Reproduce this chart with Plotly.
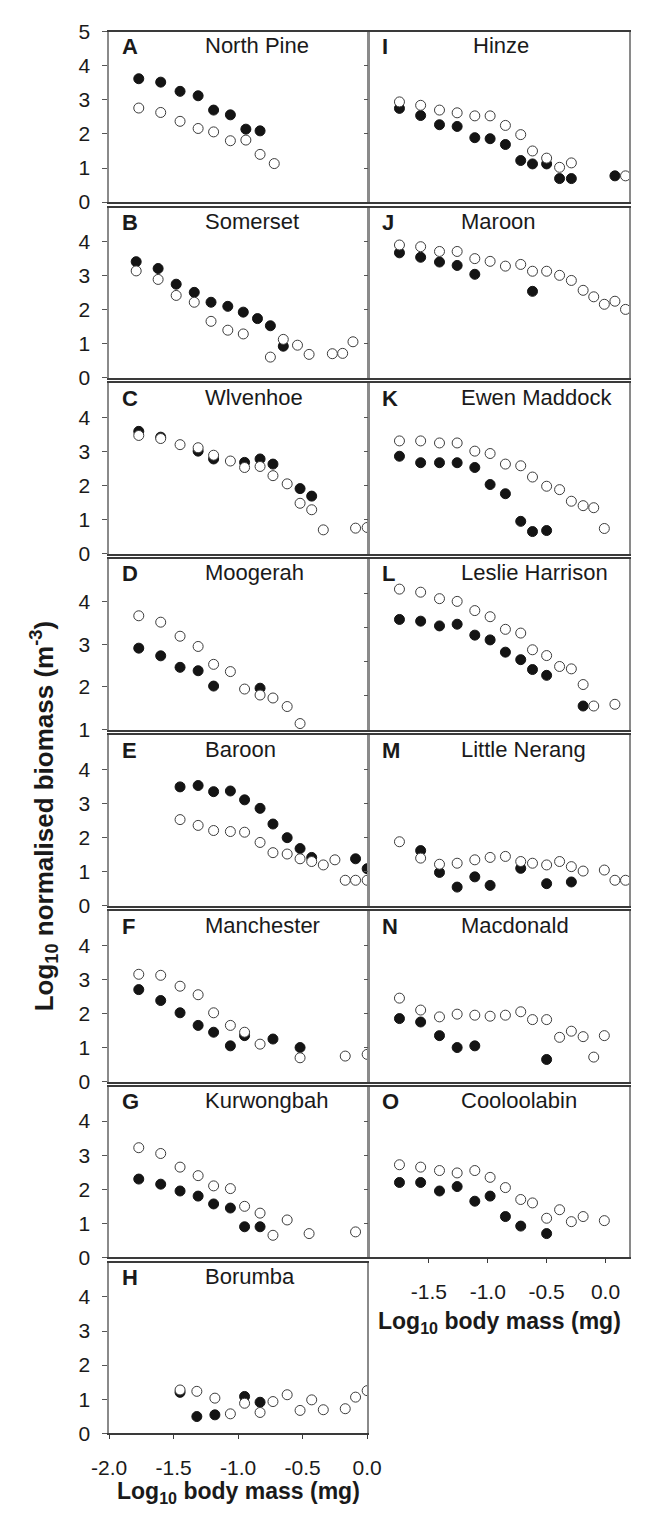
import plotly.graph_objects as go

W, H = 645, 1526
FONT = "Liberation Sans, Arial, Helvetica, sans-serif"

# ---------------- data: log10 body mass (mg) vs log10 normalised biomass ----------------
# Filled circles = one sampling survey, open circles = the other.

# A North Pine
north_pine_xf = [-1.77, -1.60, -1.45, -1.31, -1.19, -1.06, -0.94, -0.83]
north_pine_yf = [3.62, 3.52, 3.25, 3.12, 2.70, 2.56, 2.14, 2.09]
north_pine_xo = [-1.77, -1.60, -1.45, -1.31, -1.19, -1.06, -0.94, -0.83, -0.72]
north_pine_yo = [2.76, 2.63, 2.37, 2.16, 2.06, 1.80, 1.82, 1.40, 1.13]

# B Somerset
somerset_xf = [-1.79, -1.62, -1.48, -1.34, -1.21, -1.08, -0.96, -0.85, -0.75, -0.65]
somerset_yf = [3.41, 3.21, 2.75, 2.51, 2.22, 2.10, 1.93, 1.74, 1.53, 0.93]
somerset_xo = [-1.79, -1.62, -1.48, -1.34, -1.21, -1.08, -0.96, -0.75, -0.65, -0.54, -0.45, -0.27, -0.19, -0.11]
somerset_yo = [3.14, 2.89, 2.42, 2.22, 1.66, 1.40, 1.29, 0.61, 1.13, 0.96, 0.69, 0.71, 0.72, 1.06]

# C Wivenhoe
wivenhoe_xf = [-1.77, -1.60, -1.31, -1.19, -0.95, -0.83, -0.73, -0.52, -0.43]
wivenhoe_yf = [3.59, 3.42, 3.01, 2.78, 2.68, 2.78, 2.63, 1.91, 1.69]
wivenhoe_xo = [-1.77, -1.60, -1.45, -1.31, -1.19, -1.06, -0.95, -0.83, -0.73, -0.62, -0.52, -0.43, -0.34, -0.09, 0.0]
wivenhoe_yo = [3.47, 3.38, 3.20, 3.11, 2.89, 2.72, 2.53, 2.56, 2.29, 2.05, 1.48, 1.29, 0.70, 0.75, 0.77]

# D Moogerah
moogerah_xf = [-1.77, -1.60, -1.45, -1.31, -1.19, -0.83]
moogerah_yf = [2.91, 2.73, 2.46, 2.38, 2.02, 1.97]
moogerah_xo = [-1.77, -1.60, -1.45, -1.31, -1.19, -1.06, -0.95, -0.83, -0.73, -0.62, -0.52]
moogerah_yo = [3.67, 3.52, 3.19, 2.95, 2.53, 2.36, 1.95, 1.81, 1.74, 1.54, 1.14]

# E Baroon
baroon_xf = [-1.45, -1.31, -1.19, -1.06, -0.95, -0.83, -0.73, -0.62, -0.52, -0.43, -0.09, 0.0]
baroon_yf = [3.49, 3.53, 3.35, 3.37, 3.11, 2.86, 2.40, 2.00, 1.68, 1.42, 1.38, 1.09]
baroon_xo = [-1.45, -1.31, -1.19, -1.06, -0.95, -0.83, -0.73, -0.62, -0.52, -0.43, -0.34, -0.25, -0.17, -0.09, 0.0]
baroon_yo = [2.53, 2.36, 2.21, 2.18, 2.16, 1.86, 1.56, 1.52, 1.38, 1.30, 1.20, 1.35, 0.75, 0.75, 0.75]

# F Manchester
manchester_xf = [-1.77, -1.60, -1.45, -1.31, -1.19, -1.06, -0.95, -0.73, -0.52]
manchester_yf = [2.70, 2.38, 2.02, 1.65, 1.45, 1.05, 1.35, 1.25, 1.00]
manchester_xo = [-1.77, -1.60, -1.45, -1.31, -1.19, -1.06, -0.95, -0.83, -0.52, -0.17, 0.0]
manchester_yo = [3.15, 3.12, 2.80, 2.55, 2.02, 1.65, 1.45, 1.10, 0.70, 0.75, 0.80]

# G Kurwongbah
kurwongbah_xf = [-1.77, -1.60, -1.45, -1.31, -1.19, -1.06, -0.95, -0.83]
kurwongbah_yf = [2.30, 2.15, 1.95, 1.80, 1.57, 1.45, 0.90, 0.90]
kurwongbah_xo = [-1.77, -1.60, -1.45, -1.31, -1.19, -1.06, -0.95, -0.83, -0.73, -0.62, -0.45, -0.09]
kurwongbah_yo = [3.22, 3.05, 2.65, 2.40, 2.10, 2.02, 1.50, 1.30, 0.65, 1.10, 0.70, 0.75]

# H Borumba
borumba_xf = [-1.45, -1.32, -1.18, -0.95, -0.83]
borumba_yf = [1.20, 0.49, 0.54, 1.08, 0.91]
borumba_xo = [-1.45, -1.32, -1.18, -1.06, -0.95, -0.83, -0.73, -0.62, -0.52, -0.43, -0.34, -0.17, -0.09, 0.0]
borumba_yo = [1.27, 1.23, 1.03, 0.57, 0.88, 0.61, 0.93, 1.13, 0.67, 0.98, 0.69, 0.72, 1.06, 1.25]

# I Hinze
hinze_xf = [-1.75, -1.57, -1.41, -1.26, -1.11, -0.98, -0.85, -0.72, -0.62, -0.50, -0.39, -0.29, 0.08]
hinze_yf = [2.75, 2.54, 2.27, 2.22, 1.89, 1.86, 1.69, 1.22, 1.12, 1.12, 0.69, 0.69, 0.77]
hinze_xo = [-1.75, -1.57, -1.41, -1.26, -1.11, -0.98, -0.85, -0.72, -0.62, -0.50, -0.39, -0.29, 0.17]
hinze_yo = [2.94, 2.84, 2.70, 2.62, 2.53, 2.53, 2.25, 1.98, 1.50, 1.29, 1.02, 1.15, 0.77]

# J Maroon
maroon_xf = [-1.75, -1.57, -1.41, -1.26, -1.11, -0.62]
maroon_yf = [3.67, 3.54, 3.40, 3.30, 3.04, 2.54]
maroon_xo = [-1.75, -1.57, -1.41, -1.26, -1.11, -0.98, -0.85, -0.72, -0.62, -0.50, -0.39, -0.29, -0.19, -0.10, -0.01, 0.08, 0.17]
maroon_yo = [3.90, 3.85, 3.71, 3.71, 3.50, 3.42, 3.28, 3.33, 3.13, 3.13, 3.01, 2.86, 2.57, 2.38, 2.16, 2.25, 2.01]

# K Ewen Maddock
ewen_maddock_xf = [-1.75, -1.57, -1.41, -1.26, -1.11, -0.98, -0.85, -0.72, -0.62, -0.50]
ewen_maddock_yf = [2.86, 2.67, 2.67, 2.67, 2.53, 2.03, 1.76, 0.95, 0.65, 0.68]
ewen_maddock_xo = [-1.75, -1.57, -1.41, -1.26, -1.11, -0.98, -0.85, -0.72, -0.62, -0.50, -0.39, -0.29, -0.19, -0.10, -0.01]
ewen_maddock_yo = [3.31, 3.31, 3.25, 3.25, 3.01, 2.94, 2.63, 2.58, 2.25, 1.98, 1.88, 1.54, 1.41, 1.35, 0.74]

# L Leslie Harrison
leslie_harrison_xf = [-1.75, -1.57, -1.41, -1.26, -1.11, -0.98, -0.85, -0.72, -0.62, -0.50, -0.19]
leslie_harrison_yf = [3.23, 3.18, 3.04, 3.09, 2.77, 2.63, 2.27, 2.05, 1.76, 1.59, 0.69]
leslie_harrison_xo = [-1.75, -1.57, -1.41, -1.26, -1.11, -0.98, -0.85, -0.72, -0.62, -0.50, -0.39, -0.29, -0.19, -0.10, 0.08]
leslie_harrison_yo = [4.12, 4.03, 3.84, 3.76, 3.49, 3.31, 2.94, 2.83, 2.34, 2.17, 1.85, 1.78, 1.32, 0.69, 0.74]

# M Little Nerang
little_nerang_xf = [-1.57, -1.41, -1.26, -1.11, -0.98, -0.72, -0.50, -0.29]
little_nerang_yf = [1.62, 0.98, 0.55, 0.85, 0.60, 1.10, 0.65, 0.70]
little_nerang_xo = [-1.75, -1.57, -1.41, -1.26, -1.11, -0.98, -0.85, -0.72, -0.62, -0.50, -0.39, -0.29, -0.19, -0.01, 0.08, 0.17]
little_nerang_yo = [1.88, 1.40, 1.22, 1.25, 1.35, 1.42, 1.45, 1.30, 1.25, 1.20, 1.30, 1.15, 1.02, 1.05, 0.75, 0.75]

# N Macdonald
macdonald_xf = [-1.75, -1.57, -1.41, -1.26, -1.11, -0.50]
macdonald_yf = [1.85, 1.75, 1.35, 1.00, 1.05, 0.65]
macdonald_xo = [-1.75, -1.57, -1.41, -1.26, -1.11, -0.98, -0.85, -0.72, -0.62, -0.50, -0.39, -0.29, -0.19, -0.10, -0.01]
macdonald_yo = [2.45, 2.10, 1.90, 1.98, 1.95, 1.92, 1.95, 2.05, 1.82, 1.82, 1.30, 1.48, 1.32, 0.72, 1.35]

# O Cooloolabin
cooloolabin_xf = [-1.75, -1.57, -1.41, -1.26, -1.11, -0.98, -0.85, -0.72, -0.50]
cooloolabin_yf = [2.20, 2.20, 1.95, 2.08, 1.65, 1.80, 1.20, 0.92, 0.70]
cooloolabin_xo = [-1.75, -1.57, -1.41, -1.26, -1.11, -0.98, -0.85, -0.72, -0.62, -0.50, -0.39, -0.29, -0.19, -0.01]
cooloolabin_yo = [2.72, 2.65, 2.55, 2.48, 2.55, 2.35, 2.05, 1.70, 1.60, 1.15, 1.40, 1.05, 1.20, 1.08]

# tick labels
x_ticks_left = [-2.0, -1.5, -1.0, -0.5, 0.0]
x_ticks_right = [-1.5, -1.0, -0.5, 0.0]

# panel table: letter, title, column, row, series
panels = [
    ("A", "North Pine", 0, 0, north_pine_xf, north_pine_yf, north_pine_xo, north_pine_yo),
    ("B", "Somerset", 0, 1, somerset_xf, somerset_yf, somerset_xo, somerset_yo),
    ("C", "Wlvenhoe", 0, 2, wivenhoe_xf, wivenhoe_yf, wivenhoe_xo, wivenhoe_yo),
    ("D", "Moogerah", 0, 3, moogerah_xf, moogerah_yf, moogerah_xo, moogerah_yo),
    ("E", "Baroon", 0, 4, baroon_xf, baroon_yf, baroon_xo, baroon_yo),
    ("F", "Manchester", 0, 5, manchester_xf, manchester_yf, manchester_xo, manchester_yo),
    ("G", "Kurwongbah", 0, 6, kurwongbah_xf, kurwongbah_yf, kurwongbah_xo, kurwongbah_yo),
    ("H", "Borumba", 0, 7, borumba_xf, borumba_yf, borumba_xo, borumba_yo),
    ("I", "Hinze", 1, 0, hinze_xf, hinze_yf, hinze_xo, hinze_yo),
    ("J", "Maroon", 1, 1, maroon_xf, maroon_yf, maroon_xo, maroon_yo),
    ("K", "Ewen Maddock", 1, 2, ewen_maddock_xf, ewen_maddock_yf, ewen_maddock_xo, ewen_maddock_yo),
    ("L", "Leslie Harrison", 1, 3, leslie_harrison_xf, leslie_harrison_yf, leslie_harrison_xo, leslie_harrison_yo),
    ("M", "Little Nerang", 1, 4, little_nerang_xf, little_nerang_yf, little_nerang_xo, little_nerang_yo),
    ("N", "Macdonald", 1, 5, macdonald_xf, macdonald_yf, macdonald_xo, macdonald_yo),
    ("O", "Cooloolabin", 1, 6, cooloolabin_xf, cooloolabin_yf, cooloolabin_xo, cooloolabin_yo),
]

# ---------------- geometry (pixels) ----------------
COL_X = [(96, 368), (371, 644)]
COL_XRANGE = [[-2.0, 0.0], [-2.0, 0.2]]
ROW_BOTTOM = [193, 371.5, 550, 728.5, 907.5, 1086, 1264.5, 1443]
PANEL_H = 173


def px_x(p):
    return p / W


def px_y(p):
    return 1 - p / H


fig = go.Figure()
annotations = []

for i, (letter, title, col, row, xf, yf, xo, yo) in enumerate(panels):
    n = i + 1
    xa = "x" if n == 1 else f"x{n}"
    ya = "y" if n == 1 else f"y{n}"
    x0, x1 = COL_X[col]
    bottom = ROW_BOTTOM[row]
    top = bottom - PANEL_H

    fig.add_trace(go.Scatter(
        x=xf, y=yf, mode="markers", xaxis=xa, yaxis=ya, showlegend=False,
        marker=dict(size=10, color="#141414", line=dict(width=1, color="#141414")),
    ))
    fig.add_trace(go.Scatter(
        x=xo, y=yo, mode="markers", xaxis=xa, yaxis=ya, showlegend=False,
        marker=dict(size=10, color="white", line=dict(width=1, color="#3c3c3c")),
    ))

    yrange = [1, 5] if letter == "D" else [0, 5]
    if col == 0:
        if letter == "A":
            ytv = [0, 1, 2, 3, 4, 5]
        elif letter == "D":
            ytv = [1, 2, 3, 4]
        else:
            ytv = [0, 1, 2, 3, 4]
    else:
        ytv = [1, 2, 3, 4]

    is_bottom = (col == 0 and row == 7) or (col == 1 and row == 6)
    xtv = x_ticks_left if col == 0 else x_ticks_right

    xaxis = dict(
        domain=[px_x(x0), px_x(x1)], range=COL_XRANGE[col], anchor=ya,
        showgrid=False, zeroline=False, showline=True, mirror=True,
        linecolor="#3a3a3a", linewidth=1.5, fixedrange=True,
    )
    if is_bottom:
        xaxis.update(
            ticks="outside", ticklen=4, tickwidth=1, tickcolor="#3a3a3a",
            tickvals=xtv, ticktext=[f"{v:.1f}" for v in xtv],
            showticklabels=True, ticklabelstandoff=11,
            tickfont=dict(family=FONT, size=21, color="#1a1a1a"),
        )
    else:
        xaxis.update(ticks="", showticklabels=False)

    yaxis = dict(
        domain=[px_y(bottom), px_y(top)], range=yrange, anchor=xa,
        showgrid=False, zeroline=False, showline=True, mirror=True,
        linecolor="#8a8a8a", linewidth=1.5, fixedrange=True,
        ticks="outside", ticklen=5, tickwidth=1, tickcolor="#555555",
        tickvals=ytv,
    )
    if col == 0:
        yaxis.update(showticklabels=True, ticklabelstandoff=8,
                     tickfont=dict(family=FONT, size=21, color="#1a1a1a"))
    else:
        yaxis.update(showticklabels=False, ticklen=4)

    fig.layout["xaxis" if n == 1 else f"xaxis{n}"] = xaxis
    fig.layout["yaxis" if n == 1 else f"yaxis{n}"] = yaxis

    # panel letter and reservoir name
    letter_x = x0 + 11
    title_x = 195 if col == 0 else (477 if title == "Hinze" else 465)
    annotations.append(dict(
        x=px_x(letter_x), y=px_y(top + 15), xref="paper", yref="paper",
        xanchor="left", yanchor="middle", showarrow=False, text=f"<b>{letter}</b>",
        font=dict(family=FONT, size=22, color="#1a1a1a"),
    ))
    annotations.append(dict(
        x=px_x(title_x), y=px_y(top + 14), xref="paper", yref="paper",
        xanchor="left", yanchor="middle", showarrow=False, text=title,
        font=dict(family=FONT, size=22, color="#1a1a1a"),
    ))

# axis titles
annotations.append(dict(
    x=px_x(232), y=px_y(1503), xref="paper", yref="paper", xanchor="center", yanchor="middle",
    showarrow=False, text="<b>Log<sub>10</sub> body mass (mg)</b>",
    font=dict(family=FONT, size=23, color="#1a1a1a"),
))
annotations.append(dict(
    x=px_x(507), y=px_y(1331), xref="paper", yref="paper", xanchor="center", yanchor="middle",
    showarrow=False, text="<b>Log<sub>10</sub> body mass (mg)</b>",
    font=dict(family=FONT, size=23, color="#1a1a1a"),
))
annotations.append(dict(
    x=px_x(27), y=px_y(817), xref="paper", yref="paper", xanchor="center", yanchor="middle",
    showarrow=False, textangle=-90, text="<b>Log<sub>10</sub> normalised biomass (m<sup>-3</sup>)</b>",
    font=dict(family=FONT, size=26, color="#1a1a1a"),
))

fig.update_layout(
    width=W, height=H, margin=dict(l=0, r=0, t=0, b=0),
    paper_bgcolor="white", plot_bgcolor="white",
    annotations=annotations, showlegend=False,
    font=dict(family=FONT),
)

fig.write_html("out.html")
